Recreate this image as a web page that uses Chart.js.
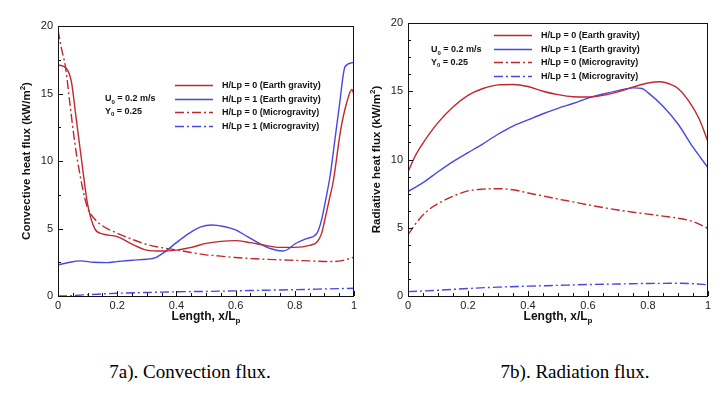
<!DOCTYPE html>
<html>
<head>
<meta charset="utf-8">
<script src="https://cdn.jsdelivr.net/npm/chart.js@4.4.1/dist/chart.umd.min.js"></script>
<style>
html, body { margin: 0; padding: 0; background: #fff; }
#page { position: relative; width: 728px; height: 393px; overflow: hidden; }
.box { position: absolute; top: 0; width: 364px; height: 340px; }
.cap { position: absolute; top: 361px; line-height: 22px; font-family: "Liberation Serif", "Times New Roman", serif;
       font-size: 19px; color: #000; transform: translateX(-50%); white-space: nowrap; }
</style>
</head>
<body>
<div id="page">
  <div class="box" style="left:0"><canvas id="conv" width="364" height="340"></canvas></div>
  <div class="box" style="left:364px"><canvas id="rad" width="364" height="340"></canvas></div>
  <div class="cap" style="left:190px">7a). Convection flux.</div>
  <div class="cap" style="left:575px">7b). Radiation flux.</div>
</div>
<script>
// series labels (same for both panels)
const seriesLabels = [
    'H/Lp = 0 (Earth gravity)',
    'H/Lp = 1 (Earth gravity)',
    'H/Lp = 0 (Microgravity)',
    'H/Lp = 1 (Microgravity)'
];

// 7a - convective heat flux, [x/Lp, kW/m2]
const convEarthH0 = [[0,17.1],[0.02,17.0],[0.045,15.9],[0.06,13.4],[0.08,10.0],[0.1,6.8],[0.125,4.95],[0.15,4.6],
    [0.2,4.4],[0.25,3.85],[0.3,3.4],[0.35,3.33],[0.4,3.4],[0.45,3.6],[0.5,3.9],[0.55,4.05],[0.6,4.1],[0.65,3.95],
    [0.7,3.75],[0.75,3.6],[0.8,3.6],[0.85,3.75],[0.875,4.0],[0.89,4.6],[0.9,5.5],[0.915,7.0],[0.93,8.5],
    [0.955,12.3],[0.975,14.3],[0.993,15.3],[1.0,14.9]];
const convEarthH1 = [[0,2.3],[0.04,2.5],[0.075,2.6],[0.12,2.5],[0.165,2.47],[0.2,2.55],[0.25,2.65],[0.3,2.72],
    [0.33,2.85],[0.36,3.25],[0.4,3.95],[0.44,4.6],[0.48,5.1],[0.52,5.26],[0.56,5.15],[0.6,4.9],[0.64,4.4],
    [0.68,3.9],[0.72,3.5],[0.76,3.33],[0.78,3.5],[0.8,3.85],[0.84,4.25],[0.875,4.65],[0.89,5.6],[0.905,7.2],
    [0.92,9.0],[0.935,11.5],[0.95,14.0],[0.97,17.0],[1.0,17.3]];
const convMicroH0 = [[0,19.7],[0.012,18.3],[0.025,17.0],[0.04,14.3],[0.057,11.3],[0.075,8.9],[0.09,7.3],[0.1,6.5],
    [0.12,5.8],[0.15,5.2],[0.2,4.65],[0.25,4.2],[0.3,3.82],[0.35,3.58],[0.4,3.42],[0.45,3.22],[0.5,3.05],
    [0.55,2.95],[0.6,2.85],[0.65,2.78],[0.7,2.72],[0.75,2.68],[0.8,2.64],[0.85,2.6],[0.9,2.56],[0.93,2.55],
    [0.96,2.62],[1.0,2.87]];
const convMicroH1 = [[0,0],[0.03,0],[0.06,0.05],[0.1,0.1],[0.15,0.15],[0.2,0.2],[0.3,0.26],[0.4,0.31],[0.5,0.34],
    [0.6,0.38],[0.7,0.43],[0.8,0.47],[0.9,0.52],[1.0,0.57]];

// 7b - radiative heat flux, [x/Lp, kW/m2]
const radEarthH0 = [[0,9.1],[0.025,10.3],[0.05,11.2],[0.1,12.7],[0.15,13.85],[0.2,14.7],[0.25,15.2],[0.3,15.47],
    [0.35,15.5],[0.4,15.35],[0.45,15.0],[0.5,14.75],[0.55,14.6],[0.6,14.58],[0.65,14.7],[0.7,14.95],[0.75,15.3],
    [0.8,15.6],[0.84,15.7],[0.87,15.55],[0.9,15.2],[0.94,14.15],[0.97,13.0],[1.0,11.3]];
const radEarthH1 = [[0,7.65],[0.05,8.3],[0.1,9.1],[0.15,9.85],[0.2,10.5],[0.25,11.15],[0.3,11.85],[0.35,12.45],
    [0.4,12.9],[0.45,13.35],[0.5,13.75],[0.55,14.1],[0.6,14.5],[0.65,14.8],[0.7,15.05],[0.75,15.25],[0.78,15.2],
    [0.8,14.9],[0.85,13.9],[0.9,12.6],[0.95,10.9],[1.0,9.4]];
const radMicroH0 = [[0,4.5],[0.04,5.7],[0.08,6.5],[0.12,7.0],[0.16,7.4],[0.2,7.7],[0.25,7.83],[0.3,7.86],[0.35,7.78],
    [0.4,7.55],[0.45,7.33],[0.5,7.1],[0.55,6.9],[0.6,6.68],[0.65,6.48],[0.7,6.3],[0.75,6.14],[0.8,6.0],[0.85,5.85],
    [0.9,5.7],[0.95,5.45],[1.0,4.95]];
const radMicroH1 = [[0,0.32],[0.1,0.42],[0.2,0.55],[0.3,0.65],[0.4,0.72],[0.5,0.78],[0.6,0.84],[0.7,0.88],
    [0.8,0.92],[0.9,0.93],[0.95,0.9],[1.0,0.82]];

const RED = '#c1272d';
const BLUE = '#4848e0';
const DASHDOT = [9, 3, 2, 3];
const FONT = '"Liberation Sans", Arial, sans-serif';

Chart.defaults.font.family = FONT;
Chart.defaults.color = '#222';

// text with sub/superscript pieces: [text, 'sub' | 'sup' | undefined]
function drawRich(ctx, parts, x, y, size, align) {
    const small = Math.round(size * 0.68);
    let w = 0;
    parts.forEach(p => {
        ctx.font = 'bold ' + (p[1] ? small : size) + 'px ' + FONT;
        w += ctx.measureText(p[0]).width;
    });
    let cx = align === 'center' ? x - w / 2 : x;
    ctx.textBaseline = 'middle';
    ctx.textAlign = 'left';
    parts.forEach(p => {
        ctx.font = 'bold ' + (p[1] ? small : size) + 'px ' + FONT;
        let dy = 0;
        if (p[1] === 'sub') dy = size * 0.35;
        if (p[1] === 'sup') dy = -size * 0.35;
        ctx.fillText(p[0], cx, y + dy);
        cx += ctx.measureText(p[0]).width;
    });
}

// frame, inward ticks, axis titles, legend and note
const decor = {
    id: 'decor',
    afterDatasetsDraw(chart, args, o) {
        const { ctx, chartArea: a, scales: { x, y } } = chart;
        ctx.save();
        ctx.strokeStyle = '#111';
        ctx.lineWidth = 1;
        ctx.strokeRect(a.left + 0.5, a.top + 0.5, a.right - a.left - 1, a.bottom - a.top);

        // y ticks
        const ny = Math.round(y.max / o.yMinor);
        for (let i = 0; i <= ny; i++) {
            const v = i * o.yMinor;
            const major = Math.abs(v / 5 - Math.round(v / 5)) < 1e-6;
            const py = Math.round(y.getPixelForValue(v)) + 0.5;
            ctx.beginPath();
            ctx.moveTo(a.left, py);
            ctx.lineTo(a.left + (major ? 5 : 3), py);
            ctx.stroke();
        }
        // x ticks
        for (let i = 0; i <= 20; i++) {
            const v = i * 0.05;
            const major = i % 4 === 0;
            const px = Math.round(x.getPixelForValue(v)) + 0.5;
            ctx.beginPath();
            ctx.moveTo(px, a.bottom);
            ctx.lineTo(px, a.bottom - (major ? 5 : 3));
            ctx.stroke();
        }

        ctx.fillStyle = '#111';
        // y title
        ctx.save();
        ctx.translate(o.yTitleX, (a.top + a.bottom) / 2);
        ctx.rotate(-Math.PI / 2);
        drawRich(ctx, [[o.yTitle], ['2', 'sup'], [')']], 0, 0, 11.5, 'center');
        ctx.restore();
        // x title
        drawRich(ctx, [['Length, x/L'], ['p', 'sub']], (a.left + a.right) / 2, 317, 12, 'center');

        // note
        drawRich(ctx, [['U'], ['0', 'sub'], [' = 0.2 m/s']], o.noteX, o.noteY, 9, 'left');
        drawRich(ctx, [['Y'], ['0', 'sub'], [' = 0.25']], o.noteX, o.noteY + 12.5, 9, 'left');

        // legend
        chart.data.datasets.forEach((ds, i) => {
            const ly = Math.round(o.legY + i * 13.5) + 0.5;
            ctx.strokeStyle = ds.borderColor;
            ctx.lineWidth = 1.5;
            ctx.setLineDash(ds.borderDash || []);
            ctx.beginPath();
            ctx.moveTo(o.legX, ly);
            ctx.lineTo(o.legX + 38, ly);
            ctx.stroke();
            ctx.setLineDash([]);
            ctx.font = 'bold 9px ' + FONT;
            ctx.textAlign = 'left';
            ctx.textBaseline = 'middle';
            ctx.fillText(ds.label, o.legX + 47, ly);
        });
        ctx.restore();
    }
};

function makeSets(s0, s1, s2, s3) {
    const cols = [RED, BLUE, RED, BLUE];
    return [s0, s1, s2, s3].map((s, i) => ({
        label: seriesLabels[i],
        data: s.map(p => ({ x: p[0], y: p[1] })),
        borderColor: cols[i],
        borderWidth: 1.4,
        borderDash: i > 1 ? DASHDOT : [],
        pointRadius: 0,
        fill: false,
        cubicInterpolationMode: 'monotone'
    }));
}

function makeChart(id, sets, pad, yWidth, deco) {
    return new Chart(document.getElementById(id), {
        type: 'line',
        data: { datasets: sets },
        options: {
            responsive: false,
            animation: false,
            layout: { padding: pad },
            plugins: { legend: { display: false }, tooltip: { enabled: false }, decor: deco },
            scales: {
                x: {
                    type: 'linear', min: 0, max: 1,
                    grid: { display: false, drawTicks: false },
                    border: { display: false },
                    ticks: {
                        stepSize: 0.2, padding: 3, font: { size: 11 }, maxRotation: 0,
                        callback: v => String(+v.toFixed(2))
                    },
                    afterFit: s => { s.height = 44; }
                },
                y: {
                    min: 0, max: 20,
                    grid: { display: false, drawTicks: false },
                    border: { display: false },
                    ticks: { stepSize: 5, padding: 5, font: { size: 11 } },
                    afterFit: s => { s.width = yWidth; }
                }
            }
        },
        plugins: [decor]
    });
}

makeChart('conv', makeSets(convEarthH0, convEarthH1, convMicroH0, convMicroH1),
    { top: 26, right: 10, left: 0, bottom: 0 }, 58,
    { yTitle: 'Convective heat flux (kW/m', yTitleX: 27, yMinor: 2.5, legX: 175, legY: 85, noteX: 105, noteY: 99 });

makeChart('rad', makeSets(radEarthH0, radEarthH1, radMicroH0, radMicroH1),
    { top: 23, right: 20, left: 0, bottom: 0 }, 44,
    { yTitle: 'Radiative heat flux (kW/m', yTitleX: 13, yMinor: 1.25, legX: 130, legY: 35, noteX: 67, noteY: 50 });
</script>
</body>
</html>
